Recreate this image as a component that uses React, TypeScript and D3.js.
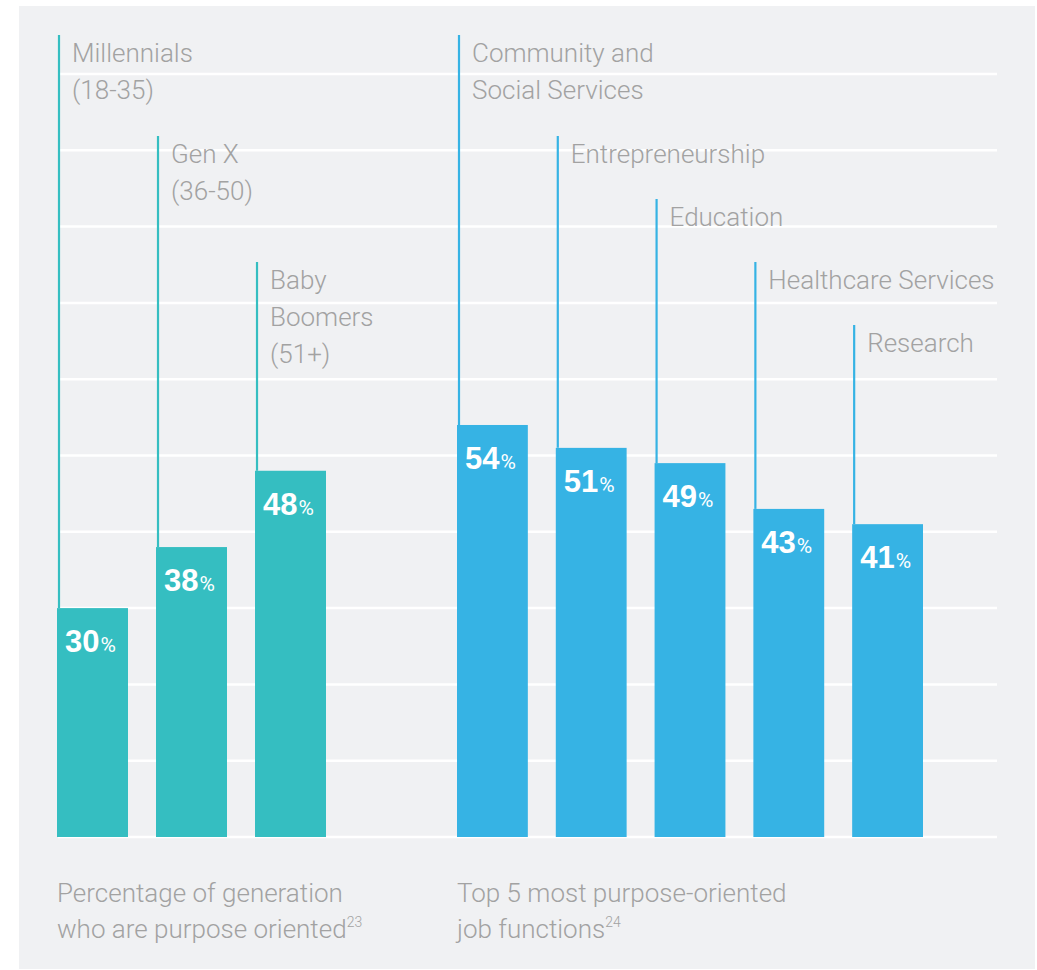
import React from "react";
import * as d3 from "d3";

// generation chart
const generations = ["Millennials", "Gen X", "Baby Boomers"];
const generationLabels = [["Millennials", "(18-35)"], ["Gen X", "(36-50)"], ["Baby", "Boomers", "(51+)"]];
const generationValues = [30, 38, 48];

// job function chart
const jobs = ["Community and Social Services", "Entrepreneurship", "Education", "Healthcare Services", "Research"];
const jobLabels = [["Community and", "Social Services"], ["Entrepreneurship"], ["Education"], ["Healthcare Services"], ["Research"]];
const jobValues = [54, 51, 49, 43, 41];

const captionLeft = ["Percentage of generation", "who are purpose oriented"];
const captionLeftNote = "23";
const captionRight = ["Top 5 most purpose-oriented", "job functions"];
const captionRightNote = "24";

const W = 1037;
const H = 970;
const TEAL = "#35bec1";
const BLUE = "#36b3e4";
const GRAY = "#a2a2a2";
const BG = "#f0f1f3";
const LABEL_FONT = "Roboto, 'Liberation Sans', sans-serif";
const NUM_FONT = "'Liberation Sans', Arial, sans-serif";

// label rows (staircase) in px from top
const rowTops = [35, 136, 199, 262, 325];
const generationRows = [0, 1, 3];
const jobRows = [0, 1, 2, 3, 4];
const lineH = 37;

const y = d3.scaleLinear().domain([0, 100]).range([837, 74]);
const xGen = d3.scaleBand<string>().domain(generations).range([57, 326]).paddingInner(0.283);
const xJob = d3.scaleBand<string>().domain(jobs).range([457, 923]).paddingInner(0.283);

type GroupProps = {
  names: string[];
  labels: string[][];
  values: number[];
  rows: number[];
  x: d3.ScaleBand<string>;
  color: string;
};

const BarGroup: React.FC<GroupProps> = ({ names, labels, values, rows, x, color }) => (
  <g>
    {names.map((name, i) => {
      const bx = x(name) ?? 0;
      const top = rowTops[rows[i]];
      return (
        <g key={name}>
          <rect x={bx} y={y(values[i])} width={x.bandwidth()} height={y(0) - y(values[i])} fill={color} />
          <line x1={bx + 2} x2={bx + 2} y1={top} y2={y(values[i])} stroke={color} strokeWidth={2.2} />
          <text x={bx + 15} y={top + 27} fill={GRAY} fontFamily={LABEL_FONT} fontWeight={300} fontSize={26}>
            {labels[i].map((l, j) => (
              <tspan key={j} x={bx + 15} dy={j === 0 ? 0 : lineH}>
                {l}
              </tspan>
            ))}
          </text>
          <text x={bx + 8} y={y(values[i]) + 44} fill="#fff">
            <tspan fontFamily={NUM_FONT} fontWeight={700} fontSize={31}>
              {values[i]}
            </tspan>
            <tspan fontFamily={LABEL_FONT} fontWeight={400} fontSize={21} dx={1}>
              %
            </tspan>
          </text>
        </g>
      );
    })}
  </g>
);

const Caption: React.FC<{ x: number; lines: string[]; note: string }> = ({ x, lines, note }) => (
  <text x={x} y={902} fill={GRAY} fontFamily={LABEL_FONT} fontWeight={300} fontSize={26}>
    {lines.map((l, j) => (
      <tspan key={j} x={x} dy={j === 0 ? 0 : 36}>
        {l}
      </tspan>
    ))}
    <tspan fontSize={14} dy={-11}>
      {note}
    </tspan>
  </text>
);

export default function App() {
  const grid = y.ticks(10);
  return (
    <svg width={W} height={H} style={{ position: "absolute", left: 0, top: 0 }}>
      <rect x={0} y={0} width={W} height={H} fill="#fff" />
      <rect x={19} y={6} width={1016} height={963} fill={BG} />
      {grid.map((t) => (
        <line key={t} x1={58} x2={997} y1={y(t)} y2={y(t)} stroke="#fff" strokeWidth={2.5} />
      ))}
      <BarGroup names={generations} labels={generationLabels} values={generationValues} rows={generationRows} x={xGen} color={TEAL} />
      <BarGroup names={jobs} labels={jobLabels} values={jobValues} rows={jobRows} x={xJob} color={BLUE} />
      <Caption x={57} lines={captionLeft} note={captionLeftNote} />
      <Caption x={457} lines={captionRight} note={captionRightNote} />
    </svg>
  );
}
